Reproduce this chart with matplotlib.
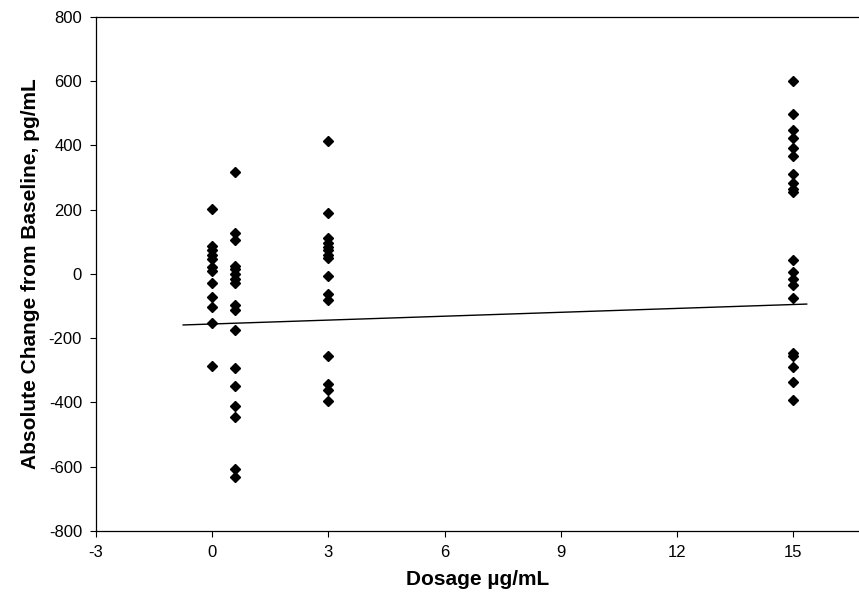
import numpy as np
import matplotlib
matplotlib.use("Agg")
import matplotlib.pyplot as plt

plt.rcParams['font.family'] = ['Liberation Sans', 'DejaVu Sans']
plt.rcParams['axes.unicode_minus'] = False

# ========== DATA ==========
dose_0 = [203, 88, 75, 60, 45, 20, 10, -30, -72, -102, -152, -288]
dose_06 = [318, 126, 105, 25, 15, 0, -15, -30, -97, -113, -175, -292,
           -350, -411, -446, -608, -633]
dose_3 = [414, 190, 112, 95, 85, 75, 60, 50, -8, -62, -81, -256, -343,
          -362, -397]
dose_15 = [600, 498, 446, 424, 390, 368, 312, 282, 264, 256, 42, 6, -15,
           -35, -76, -245, -255, -290, -338, -393]
doses = [0, 0.6, 3, 15]

# fitted line as drawn in the figure
trend_x = [-0.75, 15.35]
trend_y = [-159, -94]

x_ticks = [-3, 0, 3, 6, 9, 12, 15]
y_ticks = [-800, -600, -400, -200, 0, 200, 400, 600, 800]

# ========== PLOT ==========
fig = plt.figure(figsize=(8.59, 5.95), dpi=100)
ax = fig.add_axes([96 / 859, 1 - 531 / 595, 1 - 96 / 859, (531 - 16.7) / 595])

for d, vals in zip(doses, [dose_0, dose_06, dose_3, dose_15]):
    ax.plot([d] * len(vals), vals, linestyle='none', marker='D',
            markersize=5.5, color='black')

ax.plot(trend_x, trend_y, color='black', linewidth=1.0)

ax.set_xlim(-3, 16.7)
ax.set_ylim(-800, 800)
ax.set_xticks(x_ticks)
ax.set_yticks(y_ticks)
ax.tick_params(direction='out', length=4, width=0.8, labelsize=12, pad=6)
ax.spines['right'].set_visible(False)
for s in ['left', 'bottom', 'top']:
    ax.spines[s].set_linewidth(0.9)

ax.set_xlabel("Dosage µg/mL", fontsize=15, fontweight='bold', labelpad=7)
ax.set_ylabel("Absolute Change from Baseline, pg/mL", fontsize=15,
              fontweight='bold', labelpad=6)

fig.savefig("out.png", dpi=100)
